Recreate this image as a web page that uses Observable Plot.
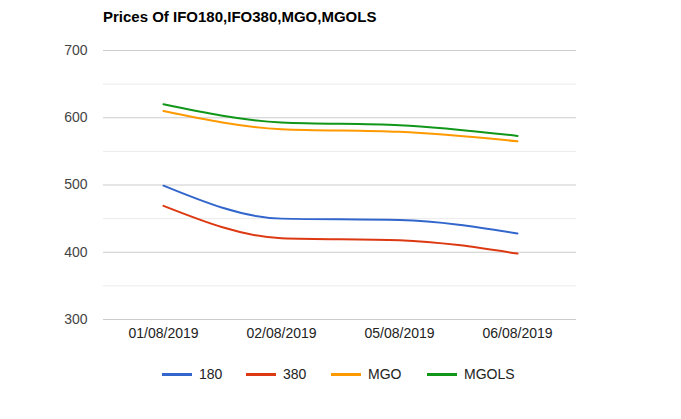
<!DOCTYPE html>
<html><head><meta charset="utf-8">
<script src="https://cdn.jsdelivr.net/npm/d3@7"></script>
<script src="https://cdn.jsdelivr.net/npm/@observablehq/plot@0.6"></script>
<style>
body{margin:0;background:#fff;font-family:Arial,"Liberation Sans",sans-serif;}
#wrap{position:relative;width:681px;height:419px;}
#title{position:absolute;left:103px;top:8px;font-size:15px;font-weight:bold;color:#000;}
#legend{position:absolute;left:0;top:365px;width:681px;height:18px;font-size:14px;color:#222;}
.item{position:absolute;top:0;display:flex;align-items:center;height:18px;}
.sw{width:30px;height:3px;margin-right:7px;}
</style></head><body>
<div id="wrap"><div id="title">Prices Of IFO180,IFO380,MGO,MGOLS</div><div id="chart"></div><div id="legend"></div></div>
<script>
const dates = ["01/08/2019","02/08/2019","05/08/2019","06/08/2019"];
const seriesNames = ["180","380","MGO","MGOLS"];
const colors = ["#3366cc","#dc3912","#ff9900","#109618"];
const v180 = [499, 450, 448, 428];
const v380 = [469, 421, 418, 398];
const vMGO = [610, 583, 579, 565];
const vMGOLS = [620, 593, 589, 573];
const yTicks = [300,400,500,600,700];
const yMinor = [350,450,550,650];
const legendX = [162,246,331,427];

const allVals = [v180,v380,vMGO,vMGOLS];
const data = [];
seriesNames.forEach((s,i)=>dates.forEach((d,j)=>data.push({date:d,series:s,value:allVals[i][j]})));

const plot = Plot.plot({
  width:681, height:419,
  marginTop:50, marginBottom:100, marginLeft:103, marginRight:105,
  style:{fontFamily:"Arial, 'Liberation Sans', sans-serif", fontSize:"14px", background:"#fff"},
  x:{type:"point", domain:dates, padding:0.5},
  y:{domain:[300,700]},
  color:{domain:seriesNames, range:colors},
  marks:[
    Plot.ruleY(yMinor,{stroke:"#ebebeb", strokeWidth:1}),
    Plot.ruleY(yTicks,{stroke:"#cccccc", strokeWidth:1}),
    Plot.axisY({ticks:yTicks, tickSize:0, tickPadding:16, fill:"#444", fontSize:14, label:null}),
    Plot.axisX({tickSize:0, tickPadding:9, fill:"#222", fontSize:14, label:null}),
    Plot.line(data,{x:"date", y:"value", z:"series", stroke:"series", strokeWidth:2, curve:"monotone-x"})
  ]
});
document.getElementById("chart").appendChild(plot);

const lg = document.getElementById("legend");
seriesNames.forEach((s,i)=>{
  const it = document.createElement("div");
  it.className="item"; it.style.left=legendX[i]+"px";
  it.innerHTML = `<div class="sw" style="background:${colors[i]}"></div><span>${s}</span>`;
  lg.appendChild(it);
});
</script>
</body></html>
